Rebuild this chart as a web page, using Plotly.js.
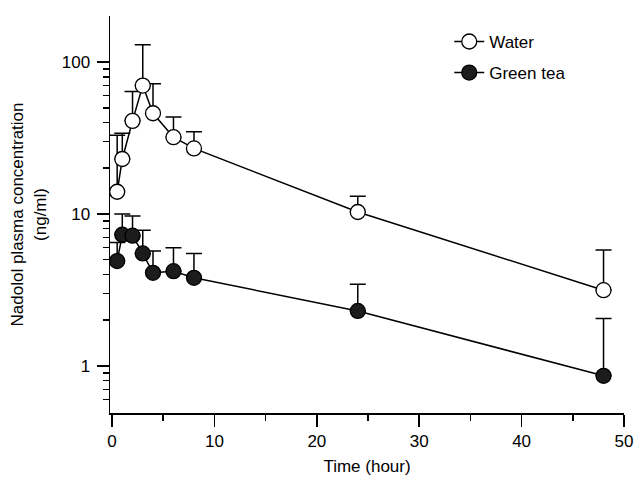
<!DOCTYPE html>
<html>
<head>
<meta charset="utf-8">
<script src="https://cdn.plot.ly/plotly-3.0.1.min.js"></script>
<style>html,body{margin:0;padding:0;background:#fff;}#chart{width:635px;height:479px;}</style>
</head>
<body>
<div id="chart"></div>
<script>
// Time points (hour)
const timeHours = [0.5, 1, 2, 3, 4, 6, 8, 24, 48];
// Water group: mean and upper error-bar tip (ng/ml)
const waterMean = [14, 23, 41, 70, 46, 32, 27, 10.3, 3.15];
const waterUpper = [33, 34, 64, 130, 72, 43.5, 34.7, 13.1, 5.8];
// Green tea group: mean and upper error-bar tip (ng/ml)
const teaMean = [4.9, 7.3, 7.2, 5.5, 4.1, 4.2, 3.8, 2.3, 0.86];
const teaUpper = [6.5, 10.0, 9.7, 7.8, 5.7, 6.0, 5.5, 3.45, 2.05];
// Axis tick labels
const xTicks = [0, 10, 20, 30, 40, 50];
const xMinorTicks = [5, 15, 25, 35, 45];
const yTicks = [1, 10, 100];
const yMinorTicks = [0.6, 0.7, 0.8, 0.9, 2, 3, 4, 5, 6, 7, 8, 9, 20, 30, 40, 50, 60, 70, 80, 90];

const upperErr = (mean, up) => mean.map((m, i) => up[i] - m);
const zeros = n => new Array(n).fill(0);

const font = {family: '"Liberation Sans", Arial, sans-serif', size: 17, color: '#000'};

const traces = [
  {
    x: timeHours, y: waterMean, name: 'Water', type: 'scatter', mode: 'lines+markers',
    legendgroup: 'w',
    line: {color: '#000', width: 1.5},
    marker: {symbol: 'circle', size: 15, color: '#fff', line: {color: '#000', width: 1.3}},
    error_y: {type: 'data', symmetric: false, array: upperErr(waterMean, waterUpper),
      arrayminus: zeros(timeHours.length), color: '#000', thickness: 1.5, width: 8}
  },
  {
    x: timeHours, y: teaMean, name: 'Green tea', type: 'scatter', mode: 'lines+markers',
    legendgroup: 't',
    line: {color: '#000', width: 1.5},
    marker: {symbol: 'circle', size: 15, color: '#1c1c1c', line: {color: '#000', width: 1.3}},
    error_y: {type: 'data', symmetric: false, array: upperErr(teaMean, teaUpper),
      arrayminus: zeros(timeHours.length), color: '#000', thickness: 1.5, width: 8}
  }
];

const layout = {
  width: 635, height: 479,
  margin: {l: 110, r: 11, t: 16, b: 66},
  paper_bgcolor: '#fff', plot_bgcolor: '#fff',
  font: font,
  showlegend: true,
  legend: {x: 0.66, y: 0.98, xanchor: 'left', yanchor: 'top', bgcolor: 'rgba(0,0,0,0)',
    font: font, traceorder: 'grouped', tracegroupgap: 6},
  xaxis: {
    range: [-0.2, 50], tickvals: xTicks, ticktext: xTicks.map(String),
    showgrid: false, zeroline: false, showline: true, linecolor: '#000', linewidth: 1.5,
    ticks: 'outside', ticklen: 12, tickwidth: 1.5, tickcolor: '#000',
    minor: {tickvals: xMinorTicks, ticks: 'outside', ticklen: 6, tickwidth: 1.5, tickcolor: '#000', showgrid: false},
    tickfont: font,
    title: {text: 'Time (hour)', font: font, standoff: 10}
  },
  yaxis: {
    type: 'log', range: [-0.31, 2.303], tickvals: yTicks, ticktext: yTicks.map(String),
    showgrid: false, zeroline: false, showline: true, linecolor: '#000', linewidth: 1.5,
    ticks: 'outside', ticklen: 12, tickwidth: 1.5, tickcolor: '#000',
    minor: {tickvals: yMinorTicks, ticks: 'outside', ticklen: 6, tickwidth: 1.5, tickcolor: '#000', showgrid: false},
    tickfont: font, ticklabelstandoff: 3,
    title: {text: 'Nadolol plasma concentration<br>(ng/ml)', font: font, standoff: 11}
  }
};

Plotly.newPlot('chart', traces, layout, {displayModeBar: false, staticPlot: true});
</script>
</body>
</html>
